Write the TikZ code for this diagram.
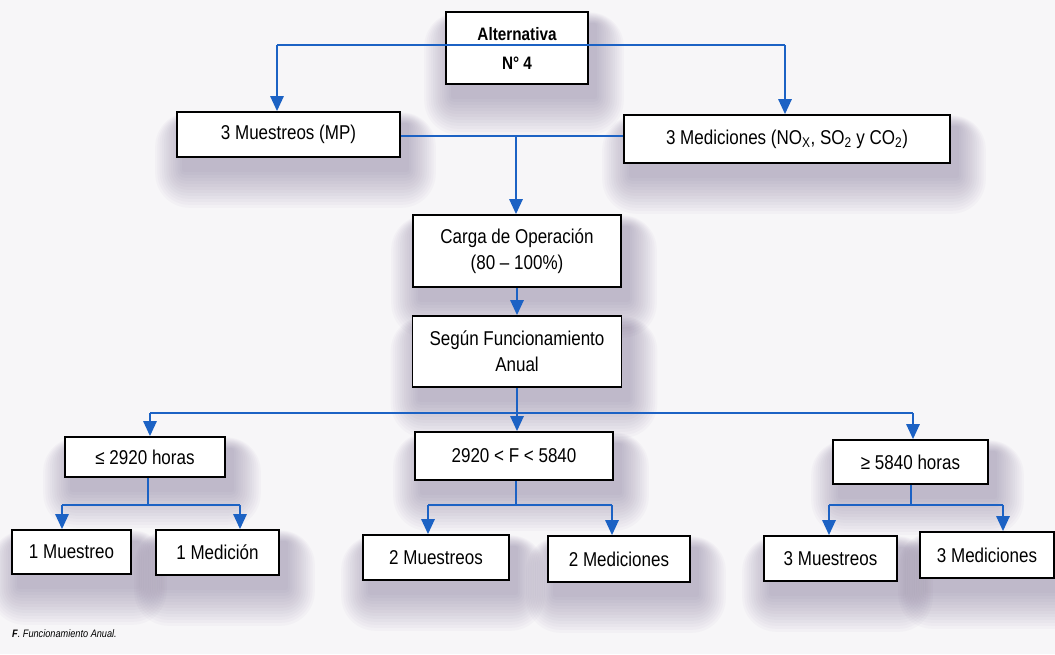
\documentclass[tikz,border=0pt]{standalone}
\usepackage{fontspec}
\setmainfont{Liberation Sans}[FakeStretch=0.85]
\usetikzlibrary{arrows.meta,calc,backgrounds}

\definecolor{linkblue}{RGB}{28,98,196}
\definecolor{shade}{RGB}{112,98,135}
\definecolor{paper}{RGB}{247,246,248}

\tikzset{
  box/.style={draw=black, line width=1.6pt, fill=white, align=center,
    inner sep=2pt, font=\fontsize{20}{26}\selectfont},
  titlebox/.style={box, font=\fontsize{18}{29}\selectfont\bfseries},
  link/.style={draw=linkblue, line width=2.6pt},
  arrow/.style={link, -{Triangle[width=13pt,length=15pt]}},
  haze/.style={fill=shade, opacity=0.034},
}

% soft drop shadow under a box, built from stacked translucent layers
\newcommand\softshadow[1]{%
  \foreach \s [evaluate=\s as \r using \s*0.9+2] in {36,33,...,0}{%
    \fill[haze, rounded corners=\r pt]
      ($(#1.north west)+(6-\s*0.75,12-\s*0.3)$) rectangle ($(#1.south east)+(8+\s*0.75,14+\s)$);
  }}

\begin{document}
\begin{tikzpicture}[x=1pt,y=-1pt]
\useasboundingbox (0,0) rectangle (1055,654);

% first level
\node[titlebox, minimum width=142pt, minimum height=72pt] (alt) at (517,48) {Alternativa\\N° 4};
\node[box, minimum width=223pt, minimum height=45pt] (mp) at (288.5,134.5) {3 Muestreos (MP)};
\node[box, minimum width=326pt, minimum height=48pt] (med) at (787,139)
  {3 Mediciones (NO\textsubscript{X}, SO\textsubscript{2} y CO\textsubscript{2})};

% operating load and annual operation
\node[box, minimum width=208pt, minimum height=72pt] (carga) at (517,251) {Carga de Operación\\(80 -- 100\%)};
\node[box, minimum width=209pt, minimum height=71pt] (segun) at (517,351.5) {Según Funcionamiento\\Anual};

% operating-hours ranges
\node[box, minimum width=160pt, minimum height=40pt] (h1) at (145,457) {≤ 2920 horas};
\node[box, minimum width=198pt, minimum height=48pt] (h2) at (514,456) {2920 < F < 5840};
\node[box, minimum width=155pt, minimum height=44pt] (h3) at (910.5,462) {≥ 5840 horas};

% resulting campaigns
\node[box, minimum width=119pt, minimum height=44pt] (m1) at (71.5,552) {1 Muestreo};
\node[box, minimum width=123pt, minimum height=45pt] (d1) at (217.5,552.5) {1 Medición};
\node[box, minimum width=146pt, minimum height=45pt] (m2) at (436,557.5) {2 Muestreos};
\node[box, minimum width=142pt, minimum height=46pt] (d2) at (619,559) {2 Mediciones};
\node[box, minimum width=133pt, minimum height=45pt] (m3) at (830.5,558.5) {3 Muestreos};
\node[box, minimum width=134pt, minimum height=46pt] (d3) at (987,555) {3 Mediciones};

% footnote
\node[anchor=west, inner sep=0pt, font=\fontsize{10.8}{13}\selectfont\itshape] (note) at (12,634)
  {\textbf{F}. Funcionamiento Anual.};

% paper and shadows behind everything
\begin{pgfonlayer}{background}
  \fill[paper] (0,0) rectangle (1055,654);
  \foreach \n in {alt,mp,med,carga,segun,h1,h2,h3,m1,d1,m2,d2,m3,d3}{\softshadow{\n}}
\end{pgfonlayer}

% connectors from the alternative
\coordinate (tl) at (277,45);
\coordinate (tr) at (785,45);
\draw[link] (tl) -- (tr);
\draw[arrow] (tl) -- (tl |- mp.north);
\draw[arrow] (tr) -- (tr |- med.north);

% join of the two measurement boxes
\coordinate (mj) at (516,136);
\draw[link] (mp.east |- mj) -- (med.west |- mj);
\draw[arrow] (mj) -- (mj |- carga.north);
\draw[arrow] (carga.south) -- (segun.north);

% split into operating-hours ranges
\coordinate (sj) at (517,413);
\coordinate (sl) at (150,413);
\coordinate (sr) at (913,413);
\draw[link] (segun.south) -- (sj);
\draw[link] (sl) -- (sr);
\draw[arrow] (sl) -- (sl |- h1.north);
\draw[arrow] (sj) -- (sj |- h2.north);
\draw[arrow] (sr) -- (sr |- h3.north);

% first range
\coordinate (aj) at (148,505);
\coordinate (al) at (62,505);
\coordinate (ar) at (240,505);
\draw[link] (aj |- h1.south) -- (aj);
\draw[link] (al) -- (ar);
\draw[arrow] (al) -- (al |- m1.north);
\draw[arrow] (ar) -- (ar |- d1.north);

% second range
\coordinate (bj) at (516,505);
\coordinate (bl) at (428,505);
\coordinate (br) at (612,505);
\draw[link] (bj |- h2.south) -- (bj);
\draw[link] (bl) -- (br);
\draw[arrow] (bl) -- (bl |- m2.north);
\draw[arrow] (br) -- (br |- d2.north);

% third range
\coordinate (cj) at (911,505);
\coordinate (cl) at (829,505);
\coordinate (cr) at (1003,505);
\draw[link] (cj |- h3.south) -- (cj);
\draw[link] (cl) -- (cr);
\draw[arrow] (cl) -- (cl |- m3.north);
\draw[arrow] (cr) -- (cr |- d3.north);
\end{tikzpicture}
\end{document}
